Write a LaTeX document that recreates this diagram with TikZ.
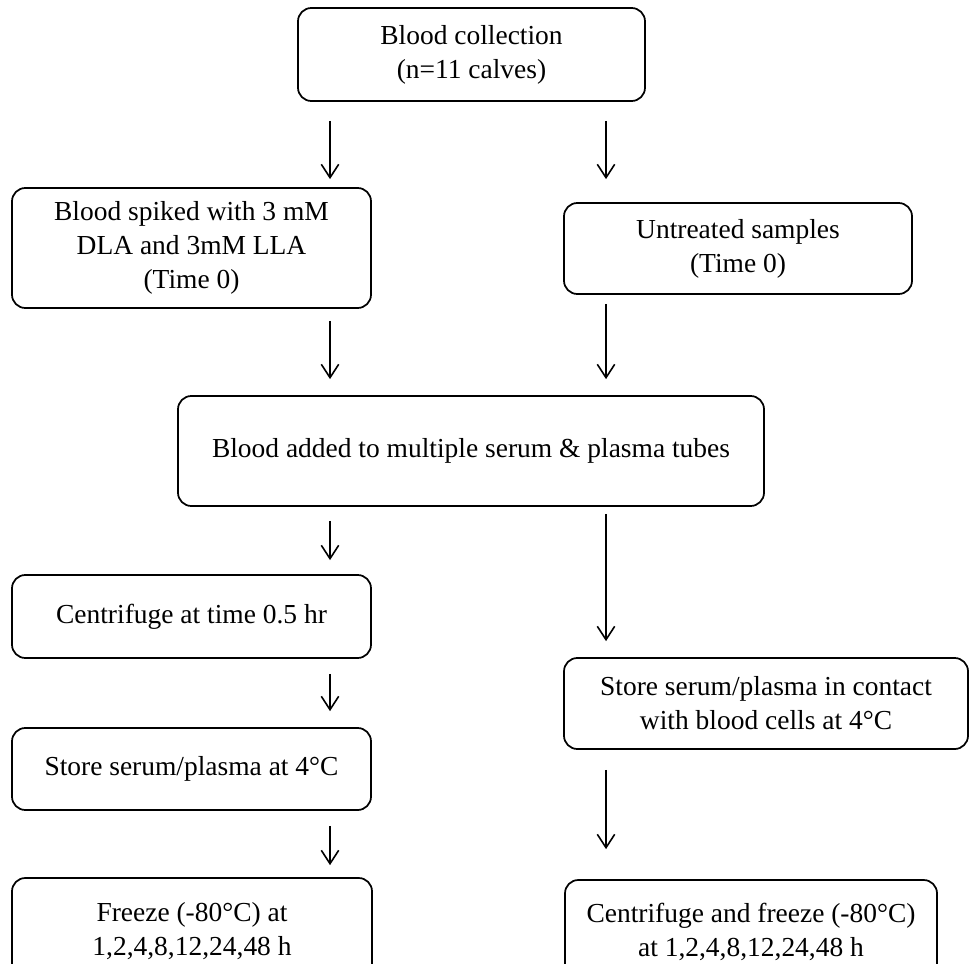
\documentclass[tikz,border=0pt]{standalone}
\usepackage{fontspec}
\setmainfont{Liberation Serif}
\usetikzlibrary{arrows.meta}
\begin{document}
\begin{tikzpicture}[x=0.75pt,y=-0.75pt,
  box/.style={draw, line width=1.3pt, rounded corners=10pt, align=center, inner sep=0pt,
    font=\fontsize{20.6}{25.5}\selectfont},
  arr/.style={-{Straight Barb[length=10pt,width=13pt]}, line width=1.2pt}]
\clip (0,0) rectangle (969,963);
\fill[white] (0,0) rectangle (969,963);

\node[box, minimum width=260.25pt, minimum height=69.75pt] (top) at (471.5,54.5)
  {Blood collection\\(n=11 calves)};
\node[box, minimum width=269.25pt, minimum height=90pt] (spk) at (191.5,248)
  {Blood spiked with 3 mM\\DLA and 3mM LLA\\(Time 0)};
\node[box, minimum width=261pt, minimum height=68.25pt] (unt) at (738,248.5)
  {Untreated samples\\(Time 0)};
\node[box, minimum width=439.5pt, minimum height=82.5pt] (mid) at (471,451)
  {\raisebox{2pt}{Blood added to multiple serum \& plasma tubes}};
\node[box, minimum width=269.25pt, minimum height=62.25pt] (cen) at (191.5,616.5)
  {\raisebox{2pt}{Centrifuge at time 0.5 hr}};
\node[box, minimum width=303pt, minimum height=68.25pt] (con) at (766,703.5)
  {Store serum/plasma in contact\\with blood cells at 4°C};
\node[box, minimum width=269.25pt, minimum height=61.5pt] (sto) at (191.5,769)
  {\raisebox{2pt}{Store serum/plasma at 4°C}};
\node[box, minimum width=270pt, minimum height=79.5pt] (frz) at (192,931)
  {Freeze (-80°C) at\\1,2,4,8,12,24,48 h};
\node[box, minimum width=279pt, minimum height=78pt] (cfz) at (751,932)
  {Centrifuge and freeze (-80°C)\\at 1,2,4,8,12,24,48 h};

\coordinate (xl) at (330,0);
\coordinate (xr) at (606,0);

\draw[arr, shorten <=14.25pt, shorten >=6pt] (top.south -| xl) -- (spk.north -| xl);
\draw[arr, shorten <=14.25pt, shorten >=17.25pt] (top.south -| xr) -- (unt.north -| xr);
\draw[arr, shorten <=9pt, shorten >=12pt] (spk.south -| xl) -- (mid.north -| xl);
\draw[arr, shorten <=6.75pt, shorten >=12pt] (unt.south -| xr) -- (mid.north -| xr);
\draw[arr, shorten <=10.5pt, shorten >=10.5pt] (mid.south -| xl) -- (cen.north -| xl);
\draw[arr, shorten <=5.25pt, shorten >=12pt] (mid.south -| xr) -- (con.north -| xr);
\draw[arr, shorten <=11.25pt, shorten >=12pt] (cen.south -| xl) -- (sto.north -| xl);
\draw[arr, shorten <=15pt, shorten >=22.5pt] (con.south -| xr) -- (cfz.north -| xr);
\draw[arr, shorten <=11.25pt, shorten >=9pt] (sto.south -| xl) -- (frz.north -| xl);
\end{tikzpicture}
\end{document}
